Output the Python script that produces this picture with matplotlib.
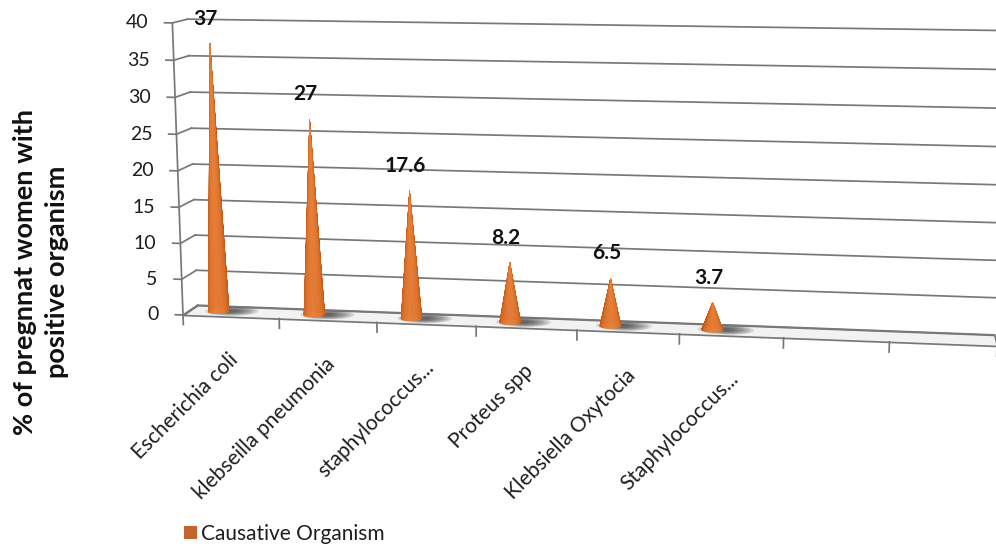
import numpy as np
import matplotlib.pyplot as plt
from matplotlib import transforms
from matplotlib.colors import to_rgb
from matplotlib.patches import Patch
from mpl_toolkits.mplot3d.art3d import Poly3DCollection

# data
organisms = ['Escherichia coli', 'klebseilla pneumonia', 'staphylococcus...',
             'Proteus spp', 'Klebsiella Oxytocia', 'Staphylococcus...']
percent = [37, 27, 17.6, 8.2, 6.5, 3.7]
y_ticks = [0, 5, 10, 15, 20, 25, 30, 35, 40]
series_name = 'Causative Organism'
y_title = '% of pregnnat women with\npositive organism'

n_slots = 8          # the sheet had two more (empty) categories
ymax = 40
W, H = 996, 548

# 3d box size (roughly in pixels) and camera
box_px = (810, 42.6, 297)
elev, azim = 9.8, -81.3
dist_ratio = 2.316   # camera distance / box width

plt.rcParams['font.family'] = ['Lato', 'DejaVu Sans']

fig = plt.figure(figsize=(W / 100, H / 100), dpi=100)
ax = fig.add_axes([0, 0, 1, 1], projection='3d', computed_zorder=False)
ax.set_axis_off()

grid_c = '#787878'
txt_c = '#1e1e1e'

# floor
floor = Poly3DCollection([[(0, 0, 0), (n_slots, 0, 0), (n_slots, 1, 0), (0, 1, 0)]],
                         facecolor='#f2f2f2', edgecolor=grid_c, linewidth=1.25,
                         zorder=1)
ax.add_collection3d(floor)

# walls: gridlines on the back wall and the left side
for v in y_ticks:
    ax.plot([0, n_slots], [1, 1], [v, v], color=grid_c, lw=1.25, zorder=2)
    ax.plot([0, 0], [0, 1], [v, v], color=grid_c, lw=1.25, zorder=2)
    ax.plot([0, -0.08], [0, 0], [v, v], color=grid_c, lw=1.25, zorder=2)
ax.plot([0, 0], [0, 0], [0, ymax], color=grid_c, lw=1.25, zorder=2)
for c in range(n_slots + 1):
    ax.plot([c, c], [0, 0], [0, -1.35], color=grid_c, lw=1.25, zorder=2)

# cone shadows on the floor
t = np.linspace(0, 2 * np.pi, 60)
for i in range(len(percent)):
    xc = i + 0.3
    for j in range(8):
        rx = 0.05 + 0.032 * j
        ry = 0.15 + 0.045 * j
        verts = [list(zip(xc + 0.13 + rx * np.cos(t),
                          np.clip(0.55 + ry * np.sin(t), 0, 1),
                          np.zeros_like(t)))]
        ax.add_collection3d(Poly3DCollection(verts, facecolor='#2e2e2e',
                                             edgecolor='none', alpha=0.14,
                                             zorder=1.5))

# cones
base_px = 10.5
theta = np.linspace(0, 2 * np.pi, 73)
S, TH = np.meshgrid([0.0, 1.0], theta, indexing='ij')
light = np.deg2rad(azim + 5)
tmid = theta + np.pi / 72
k_col = 0.5 + 0.5 * np.cos(tmid - light)
stops = [0.0, 0.55, 1.0]
pal = np.array([to_rgb(c) for c in ('#86340a', '#c65815', '#e98038')])
col = np.stack([np.interp(k_col, stops, pal[:, ch]) for ch in range(3)], axis=1)
fc = np.ones((2, len(theta), 4))
fc[:, :, :3] = col[None, :, :]

for i, v in enumerate(percent):
    xc = i + 0.3
    X = xc + base_px / (box_px[0] / n_slots) * (1 - S) * np.cos(TH)
    Y = 0.5 + base_px / box_px[1] * (1 - S) * np.sin(TH)
    Z = v * S
    ax.plot_surface(X, Y, Z, facecolors=fc, shade=False, rcount=2,
                    ccount=len(theta), linewidth=0.3, antialiased=True,
                    zorder=3)

# camera
ax.set_xlim(0, n_slots)
ax.set_ylim(0, 1)
ax.set_zlim(0, ymax)
ax.set_box_aspect(box_px)
ax.view_init(elev=elev, azim=azim)
ax.set_proj_type('persp', focal_length=dist_ratio * ax._box_aspect[0] / 10)


def to2d(x, y, z):
    p = ax.get_proj() @ np.array([x, y, z, 1.0])
    return p[0] / p[3], p[1] / p[3]


# place the box: front-left corner and front-right corner of the floor
ax0, ay0 = to2d(0, 0, 0)
bx0, _ = to2d(n_slots, 0, 0)
k = (997 - 183) / (bx0 - ax0)
vx0, vx1 = ax.viewLim.intervalx
vy0, vy1 = ax.viewLim.intervaly
left = 183 - k * (ax0 - vx0)
bottom = (H - 315) - k * (ay0 - vy0)
ax.set_position([left / W, bottom / H, k * (vx1 - vx0) / W, k * (vy1 - vy0) / H])


def shifted(dx, dy):
    return transforms.offset_copy(ax.transData, fig=fig, x=dx, y=dy, units='dots')


# value axis labels
for v in y_ticks:
    px, py = to2d(0, 0, v)
    ax.text2D(px, py, str(v), transform=shifted(-24, 0), ha='right', va='center',
              fontsize=14, color=txt_c, clip_on=False, zorder=5)

# category labels
for i, name in enumerate(organisms):
    px, py = to2d(i + 0.5, 0, 0)
    ax.text2D(px, py, name, transform=shifted(-3, -33), rotation=45,
              rotation_mode='anchor', ha='right', va='top', fontsize=15,
              color=txt_c, clip_on=False, zorder=5)

# data labels
for i, v in enumerate(percent):
    px, py = to2d(i + 0.3, 0.5, v)
    ax.text2D(px, py, f'{v:g}', transform=shifted(-4, 25), ha='center',
              va='center', fontsize=15, fontweight='bold', color='#111111',
              clip_on=False, zorder=5)

fig.text(41 / W, 1 - 272 / H, y_title, rotation=90, ha='center', va='center',
         fontsize=19.5, fontweight='bold', linespacing=1.4,
         multialignment='center', color='#111111')

fig.legend(handles=[Patch(facecolor='#c4632a')], labels=[series_name],
           loc='center left', bbox_to_anchor=(184 / W, 1 - 534 / H),
           frameon=False, fontsize=15, handlelength=0.62, handleheight=0.62,
           handletextpad=0.2, borderpad=0, borderaxespad=0, labelcolor=txt_c)

fig.savefig('out.png', dpi=100)
